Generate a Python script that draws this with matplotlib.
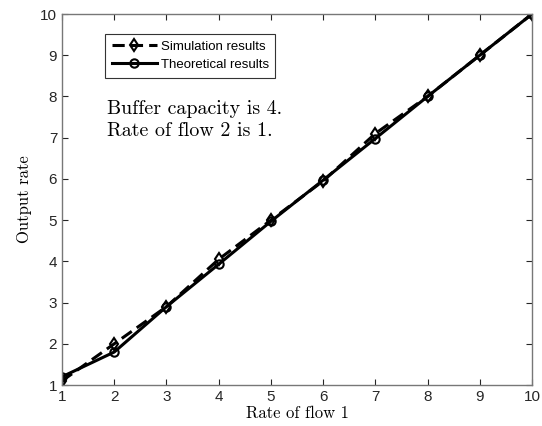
import matplotlib.pyplot as plt
import numpy as np

# данные
flow1_rate = [1, 2, 3, 4, 5, 6, 7, 8, 9, 10]
sim_output = [1.1, 2.0, 2.9, 4.05, 5.0, 5.95, 7.1, 8.0, 9.0, 10.0]
theory_output = [1.2, 1.8, 2.9, 3.93, 4.97, 5.97, 6.98, 8.0, 9.0, 10.0]

fig = plt.figure(figsize=(5.42, 4.26), dpi=100)
ax = fig.add_axes([0.1144, 0.0962, 0.8671, 0.8708])

ax.plot(flow1_rate, sim_output, color='black', linestyle='--', linewidth=2.2,
        dashes=(4, 2), marker='d', markersize=6.5, markerfacecolor='none',
        markeredgewidth=1.5, label='Simulation results')
ax.plot(flow1_rate, theory_output, color='black', linestyle='-', linewidth=2.2,
        marker='o', markersize=6, markerfacecolor='none', markeredgewidth=1.5,
        label='Theoretical results')

ax.set_xlim(1, 10)
ax.set_ylim(1, 10)
ax.set_xticks(range(1, 11))
ax.set_yticks(range(1, 11))
ax.tick_params(direction='in', top=True, right=True, length=4, width=0.8,
               colors='#262626', labelsize=11)
for lbl in ax.get_xticklabels() + ax.get_yticklabels():
    lbl.set_family('Liberation Sans')
for sp in ax.spines.values():
    sp.set_color('#777777')
    sp.set_linewidth(1.0)

ax.set_xlabel('Rate of flow 1', family='cmr10', fontsize=12, labelpad=1)
ax.set_ylabel('Output rate', family='cmr10', fontsize=12, labelpad=6)

ax.text(0.096, 0.768, 'Buffer capacity is 4.\nRate of flow 2 is 1.',
        transform=ax.transAxes, family='cmr10', fontsize=14.4,
        linespacing=1.3, va='top', ha='left')

leg = ax.legend(loc='upper left', bbox_to_anchor=(0.092, 0.946),
                prop={'family': 'Liberation Sans', 'size': 9.5},
                fancybox=False, framealpha=1, edgecolor='#333333',
                handlelength=3.4, borderpad=0.5, labelspacing=0.45,
                handletextpad=0.3, borderaxespad=0)
leg.get_frame().set_linewidth(0.8)

fig.savefig('out.png', dpi=100)
